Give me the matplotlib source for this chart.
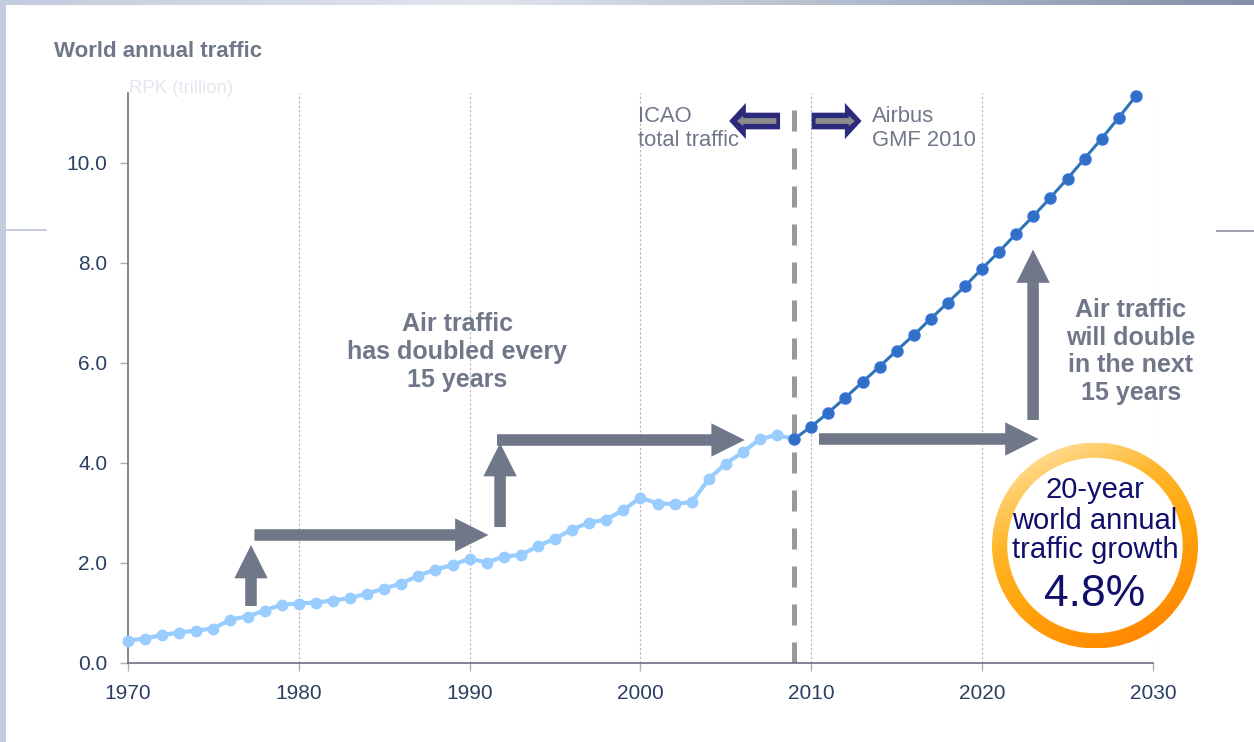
import numpy as np
import matplotlib
matplotlib.use('Agg')
import matplotlib.pyplot as plt
from matplotlib.colors import LinearSegmentedColormap
from matplotlib.patches import Wedge, Circle
from matplotlib.lines import Line2D

plt.rcParams['font.family'] = ['Liberation Sans', 'DejaVu Sans']

# ICAO total traffic, RPK (trillion)
icao_years = list(range(1970, 2010))
icao_rpk = [0.45, 0.49, 0.56, 0.61, 0.65, 0.69, 0.87, 0.93, 1.05, 1.17,
            1.19, 1.21, 1.25, 1.30, 1.39, 1.49, 1.59, 1.75, 1.87, 1.96,
            2.09, 2.01, 2.13, 2.16, 2.34, 2.49, 2.67, 2.81, 2.87, 3.06,
            3.31, 3.19, 3.18, 3.22, 3.68, 3.99, 4.22, 4.48, 4.56, 4.48]

# Airbus GMF 2010 forecast
gmf_years = list(range(2009, 2030))
gmf_rpk = [4.48, 4.73, 5.01, 5.31, 5.62, 5.93, 6.25, 6.56, 6.89, 7.21,
           7.54, 7.89, 8.23, 8.59, 8.94, 9.31, 9.69, 10.09, 10.49, 10.91, 11.34]

x_ticks = [1970, 1980, 1990, 2000, 2010, 2020, 2030]
y_ticks = [0, 2, 4, 6, 8, 10]
growth_label = '4.8%'

gray = '#6f7789'
navy = '#2b2a7c'
W, H = 1254, 742

fig = plt.figure(figsize=(W / 100, H / 100), dpi=100)
fig.patch.set_facecolor('white')

# slide decoration
top = fig.add_axes([0, 1 - 5 / H, 1, 5 / H])
top_cmap = LinearSegmentedColormap.from_list('top', [(0, '#c3cadc'), (0.38, '#e1e5ee'), (1, '#8190a8')])
top.imshow(np.linspace(0, 1, 256)[None, :], aspect='auto', cmap=top_cmap)
top.axis('off')
left = fig.add_axes([0, 0, 6 / W, 1])
left.set_facecolor('#c4cbdd')
left.set_xticks([])
left.set_yticks([])
for s in left.spines.values():
    s.set_visible(False)
fig.add_artist(Line2D([6 / W, 46 / W], [1 - 230 / H] * 2, color='#b8c0dc', lw=1.2))
fig.add_artist(Line2D([1217 / W, 1], [1 - 231 / H] * 2, color='#8a90a0', lw=1.2))

ax = fig.add_axes([128 / W, 1 - 663 / H, 1025 / W, 570 / H])
ax.set_xlim(1970, 2030)
ax.set_ylim(0, 11.4)
for s in ['top', 'right']:
    ax.spines[s].set_visible(False)
for s in ['left', 'bottom']:
    ax.spines[s].set_color('#6b7283')
    ax.spines[s].set_linewidth(1.2)

ax.set_xticks(x_ticks)
ax.set_yticks(y_ticks)
ax.set_yticklabels(['%.1f' % v for v in y_ticks])
ax.tick_params(axis='both', labelsize=15, labelcolor='#2b3f62', color='#aab0bb',
               length=6, width=1)
ax.tick_params(axis='y', pad=9)
ax.tick_params(axis='x', pad=9)
for xv in x_ticks[1:]:
    ax.plot([xv, xv], [0, 11.4], color='#b4b4b4', lw=0.8, ls=(0, (2, 2)), zorder=1)

ax.plot([2009, 2009], [0, 11.36], color='#999999', lw=3.6, dashes=(4.2, 3.4), zorder=2)

ax.plot(icao_years, icao_rpk, color='#99ccff', lw=3, marker='o', ms=7.5,
        mec='#99ccff', mfc='#99ccff', zorder=3, clip_on=False)
ax.plot(gmf_years, gmf_rpk, color='#2e75b6', lw=2.2, marker='o', ms=8,
        mfc='#2f6fc4', mec='#3a72e0', mew=1, zorder=4, clip_on=False)

big = dict(arrowstyle='simple,head_width=2.4,head_length=2.4,tail_width=0.83',
           mutation_scale=10, color=gray, shrinkA=0, shrinkB=0, lw=0)


def arrow(x0, y0, x1, y1, props):
    ax.annotate('', xy=(x1, y1), xytext=(x0, y0), arrowprops=props, zorder=5)


arrow(1977.2, 1.14, 1977.2, 2.36, big)
arrow(1977.4, 2.56, 1991.1, 2.56, big)
arrow(1991.78, 2.72, 1991.78, 4.40, big)
arrow(1991.6, 4.46, 2006.1, 4.46, big)
arrow(2010.45, 4.48, 2023.3, 4.48, big)
arrow(2022.98, 4.86, 2022.98, 8.27, big)

outer = dict(arrowstyle='simple,head_width=2.6,head_length=1.2,tail_width=1.2',
             mutation_scale=10, color=navy, shrinkA=0, shrinkB=0, lw=0)
inner = dict(arrowstyle='simple,head_width=0.75,head_length=0.45,tail_width=0.42',
             mutation_scale=10, color='#8c8c8c', shrinkA=0, shrinkB=0, lw=0)
arrow(2008.17, 10.84, 2005.19, 10.84, outer)
arrow(2007.95, 10.84, 2005.65, 10.84, inner)
arrow(2010.02, 10.84, 2012.94, 10.84, outer)
arrow(2010.25, 10.84, 2012.55, 10.84, inner)

ax.text(1999.83, 10.83, 'ICAO', fontsize=15.8, color=gray, va='baseline')
ax.text(1999.83, 10.33, 'total traffic', fontsize=15.8, color=gray, va='baseline')
ax.text(2013.57, 10.83, 'Airbus', fontsize=15.8, color=gray, va='baseline')
ax.text(2013.57, 10.33, 'GMF 2010', fontsize=15.8, color=gray, va='baseline')

for t, yv in zip(['Air traffic', 'has doubled every', '15 years'], [6.64, 6.08, 5.52]):
    ax.text(1989.26, yv, t, fontsize=18, fontweight='bold', color=gray,
            ha='center', va='baseline')
for t, yv in zip(['Air traffic', 'will double', 'in the next', '15 years'],
                 [6.92, 6.36, 5.82, 5.26]):
    ax.text(2028.71, yv, t, fontsize=18, fontweight='bold', color=gray,
            ha='center', va='baseline')

fig.text(54 / W, 1 - 56.7 / H, 'World annual traffic', fontsize=16, fontweight='bold',
         color=gray, va='baseline')
fig.text(129 / W, 1 - 93.3 / H, 'RPK (trillion)', fontsize=13.4, color='#e4e7ef',
         va='baseline')

# orange ring
cx, cy, r = 1095, 545.5, 103
ring = fig.add_axes([(cx - r) / W, (H - cy - r) / H, 2 * r / W, 2 * r / H])
ring.set_xlim(-1, 1)
ring.set_ylim(-1, 1)
ring.axis('off')
gx, gy = np.meshgrid(np.linspace(-1, 1, 200), np.linspace(1, -1, 200))
grad = (0.5 * gx - gy) / 1.5
ring_cmap = LinearSegmentedColormap.from_list(
    'ring', [(0, '#ffd98a'), (0.3, '#ffb72a'), (0.6, '#ffa50d'), (1, '#ff8800')])
img = ring.imshow(grad, extent=[-1, 1, -1, 1], cmap=ring_cmap, vmin=-0.75, vmax=0.75,
                  aspect='auto')
clip = Wedge((0, 0), 1.0, 0, 360, width=0.16, transform=ring.transData)
img.set_clip_path(clip)
ring.add_patch(Circle((0, 0), 0.845, color='white', zorder=2))

txt_color = '#10106a'
for t, py in zip(['20-year', 'world annual', 'traffic growth'], [498.3, 529, 557.5]):
    fig.text(cx / W, 1 - py / H, t, fontsize=21, color=txt_color, ha='center', va='baseline')
fig.text(cx / W, 1 - 606 / H, growth_label, fontsize=32, color=txt_color,
         ha='center', va='baseline')

fig.savefig('out.png', dpi=100)
